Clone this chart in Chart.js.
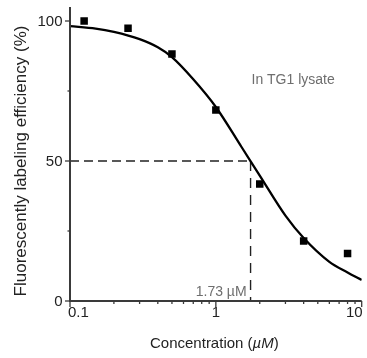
<!DOCTYPE html>
<html><head><meta charset="utf-8">
<script src="https://cdn.jsdelivr.net/npm/chart.js@4/dist/chart.umd.min.js"></script>
<style>html,body{margin:0;padding:0;background:#fff;} canvas{display:block;}</style>
</head><body>
<canvas id="c" width="367" height="358"></canvas>
<script>
// measured data points
const concentrations = [0.125, 0.25, 0.5, 1, 2, 4, 8];
const efficiency = [100, 97.4, 88.2, 68.2, 41.8, 21.4, 17];
// fitted curve
const fitX = [0.1, 0.15, 0.2, 0.3, 0.4, 0.5, 0.7, 1, 1.5, 2, 3, 4, 6, 8, 10];
const fitY = [98.2, 97.3, 96.1, 93.5, 90.6, 87.1, 79.2, 69.3, 55, 44.8, 30.5, 22.5, 14, 10.2, 7.5];
const ic50 = 1.73;
const halfLevel = 50;
const ic50Label = '1.73 \u00b5M';
const noteLabel = 'In TG1 lysate';
const xMajorTicks = [0.1, 1, 10];
const xMajorLabels = ['0.1', '1', '10'];
const xMinorTicks = [0.2, 0.3, 0.4, 0.5, 0.6, 0.7, 0.8, 0.9, 2, 3, 4, 5, 6, 7, 8, 9];
const yMajorTicks = [0, 50, 100];
const yMajorLabels = ['0', '50', '100'];
const yMinorTicks = [25, 75];
const xTitleParts = [['Concentration (', false], ['\u00b5M', true], [')', false]];
const yTitle = 'Fluorescently labeling efficiency (%)';

const FONT = '"Liberation Sans", Arial, Helvetica, sans-serif';

const decor = {
  id: 'decor',
  afterDraw(chart) {
    const {ctx, chartArea: a, scales: {x, y}} = chart;
    ctx.save();
    const line = (x1, y1, x2, y2) => { ctx.beginPath(); ctx.moveTo(x1, y1); ctx.lineTo(x2, y2); ctx.stroke(); };
    ctx.strokeStyle = '#3a3a3a';
    ctx.lineWidth = 2;
    line(a.left, a.top, a.left, a.bottom + 1);
    line(a.left - 1, a.bottom, a.right, a.bottom);
    ctx.lineWidth = 1.3;
    xMajorTicks.forEach(v => { const p = x.getPixelForValue(v); line(p, a.bottom, p, a.bottom + 6); });
    xMinorTicks.forEach(v => { const p = x.getPixelForValue(v); line(p, a.bottom, p, a.bottom + 3); });
    yMajorTicks.forEach(v => { const p = y.getPixelForValue(v); line(a.left - 5, p, a.left, p); });
    yMinorTicks.forEach(v => { const p = y.getPixelForValue(v); line(a.left - 2.5, p, a.left, p); });

    ctx.fillStyle = '#222';
    ctx.font = '15px ' + FONT;
    ctx.textBaseline = 'middle';
    ctx.textAlign = 'right';
    yMajorTicks.forEach((v, i) => ctx.fillText(yMajorLabels[i], a.left - 7.5, y.getPixelForValue(v) + 0.5));
    const aligns = ['left', 'center', 'right'];
    const shifts = [-2, 0, 1];
    xMajorTicks.forEach((v, i) => {
      ctx.textAlign = aligns[i];
      ctx.fillText(xMajorLabels[i], x.getPixelForValue(v) + shifts[i], a.bottom + 12);
    });

    // x title
    ctx.textBaseline = 'alphabetic';
    ctx.textAlign = 'left';
    let total = 0;
    const widths = xTitleParts.map(([t, it]) => { ctx.font = (it ? 'italic ' : '') + '15px ' + FONT; const w = ctx.measureText(t).width; total += w; return w; });
    let cx = (a.left + a.right) / 2 - 1.5 - total / 2;
    xTitleParts.forEach(([t, it], i) => { ctx.font = (it ? 'italic ' : '') + '15px ' + FONT; ctx.fillText(t, cx, 348); cx += widths[i]; });

    // y title
    ctx.save();
    ctx.font = '17px ' + FONT;
    ctx.textAlign = 'center';
    ctx.translate(25.5, (a.top + a.bottom) / 2 + 7);
    ctx.rotate(-Math.PI / 2);
    ctx.fillText(yTitle, 0, 0);
    ctx.restore();

    // annotations
    ctx.fillStyle = '#6e6e6e';
    ctx.font = '14px ' + FONT;
    ctx.textAlign = 'right';
    ctx.fillText(ic50Label, x.getPixelForValue(ic50) - 4, y.getPixelForValue(0) - 5);
    ctx.textAlign = 'left';
    ctx.fillText(noteLabel, a.left + 181.5, a.top + 77);
    ctx.restore();
  }
};

new Chart(document.getElementById('c'), {
  data: {
    datasets: [
      { type: 'line', data: [{x: fitX[0], y: halfLevel}, {x: ic50, y: halfLevel}], borderColor: '#222', borderWidth: 1.4, borderDash: [9, 5], pointRadius: 0, order: 4 },
      { type: 'line', data: [{x: ic50, y: halfLevel}, {x: ic50, y: 0}], borderColor: '#222', borderWidth: 1.4, borderDash: [10, 7], pointRadius: 0, order: 3 },
      { type: 'line', data: fitX.map((v, i) => ({x: v, y: fitY[i]})), borderColor: '#000', borderWidth: 2.3, cubicInterpolationMode: 'monotone', pointRadius: 0, order: 2 },
      { type: 'scatter', data: concentrations.map((v, i) => ({x: v, y: efficiency[i]})), pointStyle: 'rect', pointRadius: 5.3, backgroundColor: '#000', borderWidth: 0, order: 1 }
    ]
  },
  options: {
    responsive: false,
    animation: false,
    layout: { padding: { top: 7, right: 4, left: 0, bottom: 0 } },
    plugins: { legend: { display: false }, tooltip: { enabled: false } },
    scales: {
      x: { type: 'logarithmic', min: 0.1, max: 10, grid: { display: false }, border: { display: false }, ticks: { display: false }, afterFit(s) { s.height = 57; } },
      y: { type: 'linear', min: 0, max: 105, grid: { display: false }, border: { display: false }, ticks: { display: false }, afterFit(s) { s.width = 70; } }
    }
  },
  plugins: [decor]
});
</script>
</body></html>
